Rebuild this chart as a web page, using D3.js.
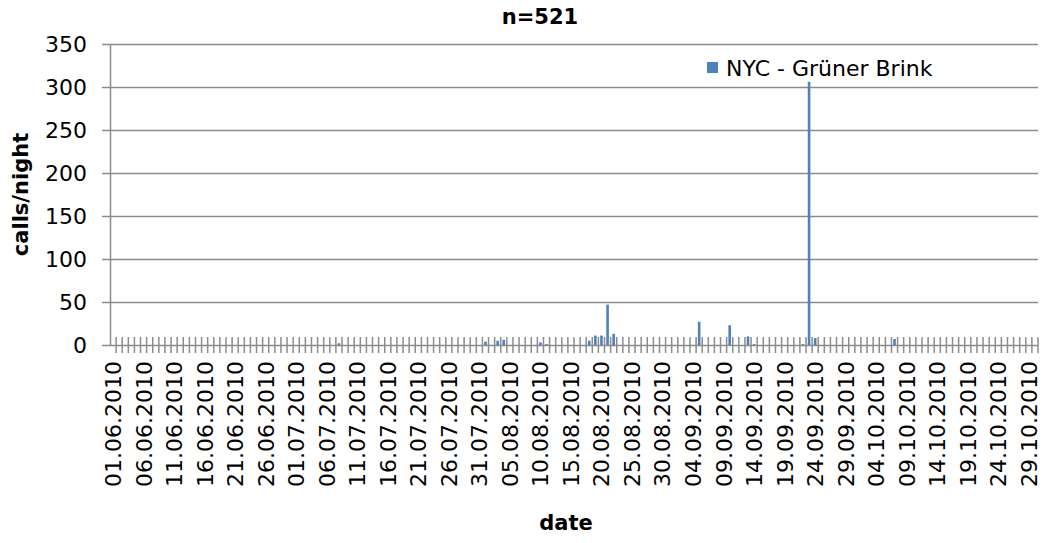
<!DOCTYPE html>
<html>
<head>
<meta charset="utf-8">
<script src="https://cdn.jsdelivr.net/npm/d3@7"></script>
<style>
  body { margin: 0; background: #fff; }
  text { font-family: "DejaVu Sans", Verdana, sans-serif; fill: #000; }
</style>
</head>
<body>
<script>
// nights from 01.06.2010 to 30.10.2010
var startDate = new Date(2010, 5, 1),
    endDate = new Date(2010, 9, 31);
var days = d3.timeDay.range(startDate, endDate);
var fmt = d3.timeFormat("%d.%m.%Y");
var categories = days.map(fmt);

// nights with calls (all other nights are 0)
var callDates = ["08.07.2010", "01.08.2010", "03.08.2010", "04.08.2010", "10.08.2010", "11.08.2010",
                 "18.08.2010", "19.08.2010", "20.08.2010", "21.08.2010", "22.08.2010",
                 "05.09.2010", "10.09.2010", "13.09.2010", "14.09.2010", "22.09.2010",
                 "23.09.2010", "24.09.2010", "07.10.2010"];
var callValues = [2, 4, 5, 6, 3, 1,
                  5, 11, 11, 47, 13,
                  27, 23, 10, 1, 1,
                  306, 8, 7];

var yTicks = [0, 50, 100, 150, 200, 250, 300, 350];
var seriesName = "NYC - Grüner Brink";

var values = categories.map(function (c) {
    var i = callDates.indexOf(c);
    return i < 0 ? 0 : callValues[i];
});

var width = 1043,
    height = 543,
    margin = { top: 44, right: 5, bottom: 198, left: 110 };

var svg = d3.select("body").append("svg")
    .attr("width", width)
    .attr("height", height);

var x = d3.scaleBand()
    .domain(categories)
    .range([margin.left, 1038]);

var y = d3.scaleLinear()
    .domain([0, 350])
    .range([height - margin.bottom, margin.top]);

// gridlines + y ticks
svg.append("g")
    .selectAll("line")
    .data(yTicks)
    .enter().append("line")
    .attr("x1", 102)
    .attr("x2", 1038)
    .attr("y1", function (d) { return y(d) + 0.5; })
    .attr("y2", function (d) { return y(d) + 0.5; })
    .attr("stroke", "#8c8c8c")
    .attr("stroke-width", 1.5);

svg.append("line")
    .attr("x1", margin.left + 0.5)
    .attr("x2", margin.left + 0.5)
    .attr("y1", y(350))
    .attr("y2", y(0))
    .attr("stroke", "#8c8c8c")
    .attr("stroke-width", 1.5);

svg.append("g")
    .selectAll("text")
    .data(yTicks)
    .enter().append("text")
    .attr("x", 87)
    .attr("y", function (d) { return y(d); })
    .attr("dy", "0.36em")
    .attr("text-anchor", "end")
    .style("font-size", "22px")
    .text(function (d) { return d; });

// x category ticks (cross)
var bounds = categories.map(function (c) { return x(c); }).concat([x.range()[1]]);
svg.append("g")
    .selectAll("line")
    .data(bounds.slice(1))
    .enter().append("line")
    .attr("x1", function (d) { return d; })
    .attr("x2", function (d) { return d; })
    .attr("y1", y(0) - 8)
    .attr("y2", y(0) + 8)
    .attr("stroke", "#8c8c8c")
    .attr("stroke-width", 1.5);

// bars
var barW = 2.6;
svg.append("g")
    .selectAll("rect")
    .data(values)
    .enter().append("rect")
    .attr("x", function (d, i) { return x(categories[i]) + x.bandwidth() / 2 - barW / 2; })
    .attr("y", function (d) { return y(d); })
    .attr("width", barW)
    .attr("height", function (d) { return y(0) - y(d); })
    .attr("fill", "#4f81bd");

// x labels every 5th night
svg.append("g")
    .selectAll("text")
    .data(categories.filter(function (c, i) { return i % 5 === 0; }))
    .enter().append("text")
    .attr("transform", function (d) {
        return "translate(" + (x(d) + x.bandwidth() / 2) + "," + 361 + ") rotate(-90)";
    })
    .attr("dy", "0.36em")
    .attr("text-anchor", "end")
    .style("font-size", "22px")
    .text(function (d) { return d; });

// titles
svg.append("text")
    .attr("x", 540)
    .attr("y", 24)
    .attr("text-anchor", "middle")
    .style("font-size", "21px")
    .style("font-weight", "bold")
    .text("n=521");

svg.append("text")
    .attr("x", 566)
    .attr("y", 530)
    .attr("text-anchor", "middle")
    .style("font-size", "21px")
    .style("font-weight", "bold")
    .text("date");

svg.append("text")
    .attr("transform", "translate(28," + ((y(0) + y(350)) / 2) + ") rotate(-90)")
    .attr("text-anchor", "middle")
    .style("font-size", "21px")
    .style("font-weight", "bold")
    .text("calls/night");

// legend
var legend = svg.append("g");
legend.append("rect")
    .attr("x", 707)
    .attr("y", 62)
    .attr("width", 11)
    .attr("height", 11)
    .attr("fill", "#4f81bd");
legend.append("text")
    .attr("x", 726)
    .attr("y", 68)
    .attr("dy", "0.36em")
    .style("font-size", "22px")
    .text(seriesName);
</script>
</body>
</html>
